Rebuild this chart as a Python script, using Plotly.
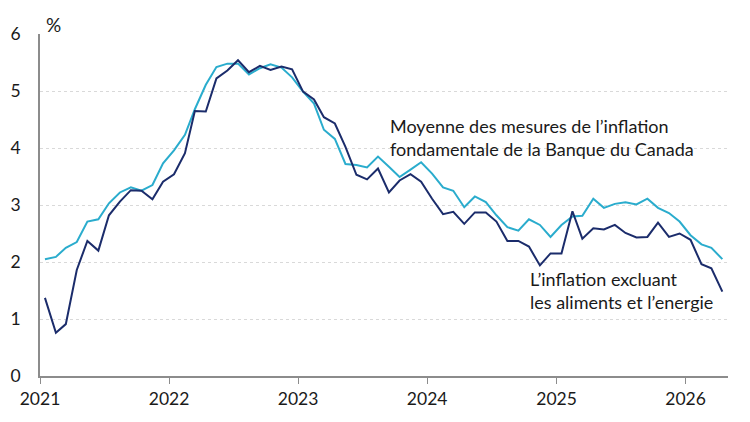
import plotly.graph_objects as go
import pandas as pd

# Monthly observations, Jan 2021 .. Apr 2026
months = pd.date_range("2021-01-01", periods=64, freq="MS") + pd.Timedelta(days=14)

excl_food_energy = [
    1.37, 0.76, 0.91, 1.86, 2.37, 2.20, 2.82, 3.06, 3.26, 3.25, 3.10, 3.41,
    3.54, 3.91, 4.65, 4.64, 5.22, 5.36, 5.54, 5.33, 5.44, 5.37, 5.43, 5.38,
    4.99, 4.85, 4.54, 4.43, 4.02, 3.53, 3.45, 3.64, 3.22, 3.43, 3.54, 3.41,
    3.11, 2.84, 2.88, 2.67, 2.87, 2.87, 2.71, 2.37, 2.37, 2.27, 1.94, 2.15,
    2.15, 2.89, 2.41, 2.59, 2.57, 2.65, 2.51, 2.43, 2.44, 2.69, 2.44, 2.50,
    2.39, 1.96, 1.89, 1.48,
]
core_avg = [
    2.05, 2.09, 2.25, 2.35, 2.71, 2.75, 3.03, 3.22, 3.31, 3.25, 3.35, 3.73,
    3.96, 4.23, 4.68, 5.11, 5.42, 5.48, 5.48, 5.29, 5.40, 5.47, 5.41, 5.24,
    4.99, 4.78, 4.32, 4.16, 3.72, 3.70, 3.66, 3.85, 3.67, 3.49, 3.62, 3.75,
    3.55, 3.31, 3.25, 2.96, 3.15, 3.05, 2.82, 2.61, 2.55, 2.75, 2.65, 2.44,
    2.65, 2.80, 2.81, 3.11, 2.95, 3.02, 3.05, 3.01, 3.11, 2.95, 2.86, 2.71,
    2.47, 2.31, 2.25, 2.05,
]
year_ticks = ["2021-01-01", "2022-01-01", "2023-01-01", "2024-01-01", "2025-01-01", "2026-01-01"]
year_labels = ["2021", "2022", "2023", "2024", "2025", "2026"]
y_ticks = [0, 1, 2, 3, 4, 5, 6]

label_core = "Moyenne des mesures de l’inflation<br>fondamentale de la Banque du Canada"
label_excl = "L’inflation excluant<br>les aliments et l’energie"

NAVY = "#1B2C6B"
LIGHT = "#2AACCD"
FONT = "Lato"
TXT = 18

fig = go.Figure()
fig.add_trace(go.Scatter(x=months, y=core_avg, mode="lines",
                         line=dict(color=LIGHT, width=2), name="Moyenne"))
fig.add_trace(go.Scatter(x=months, y=excl_food_energy, mode="lines",
                         line=dict(color=NAVY, width=2), name="Excluant"))

fig.update_layout(
    width=750, height=422,
    margin=dict(l=40, r=22, t=34, b=46),
    paper_bgcolor="white", plot_bgcolor="white",
    showlegend=False,
    font=dict(family=FONT, size=17, color="#1a1a1a"),
    xaxis=dict(
        type="date",
        range=["2021-01-01", "2026-05-01"],
        tickvals=year_ticks, ticktext=year_labels,
        showgrid=False, showline=True, linecolor="#8c8c8c", linewidth=1.5,
        ticks="outside", ticklen=6, tickcolor="#8c8c8c", tickwidth=1.2,
        tickfont=dict(size=17.5, family=FONT),
        zeroline=False,
    ),
    yaxis=dict(
        range=[0, 6], tickvals=y_ticks,
        showgrid=True, gridcolor="#d9d9d9", griddash="dot", gridwidth=1,
        showline=True, linecolor="#8c8c8c", linewidth=1.5,
        ticks="", tickfont=dict(size=17.5, family=FONT),
        ticklabelstandoff=14,
        zeroline=False,
    ),
)

fig.add_annotation(x=0, xref="paper", xanchor="left", xshift=4,
                   y=1, yref="paper", yanchor="bottom", yshift=-4,
                   text="%", showarrow=False, font=dict(size=19, family=FONT))

fig.add_annotation(x="2023-09-12", xref="x", xanchor="left",
                   y=4.18, yref="y", yanchor="middle", align="left",
                   text=label_core, showarrow=False, font=dict(size=TXT, family=FONT))
fig.add_annotation(x="2024-10-12", xref="x", xanchor="left",
                   y=1.50, yref="y", yanchor="middle", align="left",
                   text=label_excl, showarrow=False, font=dict(size=TXT, family=FONT))

fig.write_html("out.html")
